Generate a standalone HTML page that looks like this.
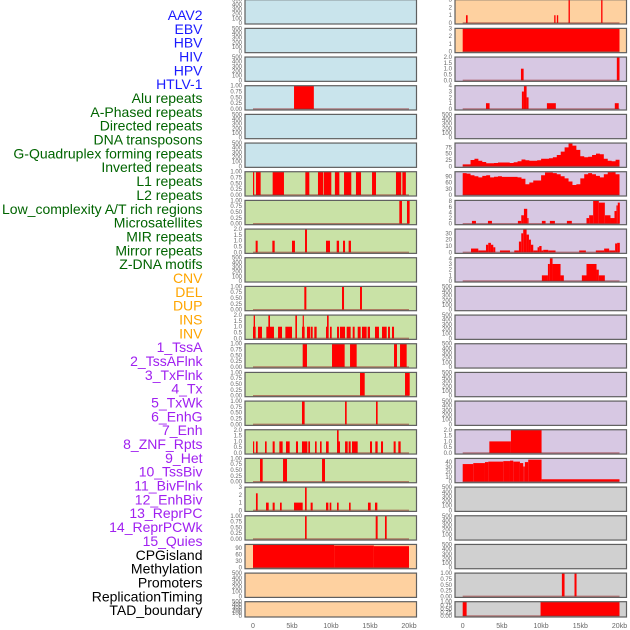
<!DOCTYPE html>
<html><head><meta charset="utf-8">
<style>
html,body{margin:0;padding:0;background:#fff;width:630px;height:630px;overflow:hidden}
svg{display:block;font-family:"Liberation Sans",sans-serif}
</style></head>
<body>
<svg id="chart" width="630" height="630" viewBox="0 0 630 630"></svg>
<script>
// ---------- labels ----------
const trackLabels = ["AAV2","EBV","HBV","HIV","HPV","HTLV-1","Alu repeats","A-Phased repeats","Directed repeats","DNA transposons","G-Quadruplex forming repeats","Inverted repeats","L1 repeats","L2 repeats","Low_complexity A/T rich regions","Microsatellites","MIR repeats","Mirror repeats","Z-DNA motifs","CNV","DEL","DUP","INS","INV","1_TssA","2_TssAFlnk","3_TxFlnk","4_Tx","5_TxWk","6_EnhG","7_Enh","8_ZNF_Rpts","9_Het","10_TssBiv","11_BivFlnk","12_EnhBiv","13_ReprPC","14_ReprPCWk","15_Quies","CPGisland","Methylation","Promoters","ReplicationTiming","TAD_boundary"];
const labelGroups = [6,13,5,15,5];
const groupColors = ["#1a1aff","#006400","#ffa500","#a020f0","#000000"];

// ---------- x axis ----------
const xTickValues = [0,5,10,15,20];
const xTickLabels = ["0","5kb","10kb","15kb","20kb"];

// ---------- tick sets ----------
const ticksEmpty = [0,100,200,300,400,500];
const ticksUnit = [0,0.25,0.5,0.75,1];
const ticksTwo = [0,0.5,1,1.5,2];
const ticksThree = [0,1,2,3];
const ticksFour = [0,1,2,3,4];

// ---------- left column bar data [startKb, endKb, value] ----------
const leftAlu = [[5.26,7.8,1]];
const leftL1 = [[0,0.15,1],[0.38,0.98,1],[2.52,3.97,1],[6.71,7.22,1],[8.33,9.02,1],[9.1,10.04,1],[10.5,11.07,1],[11.67,12.6,1],[13.2,13.85,1],[15.26,15.77,1],[18.33,19.0,1],[19.15,19.6,1]];
const leftLowC = [[18.76,19.1,1],[19.74,20.08,1]];
const leftMIR = [[0.34,0.6,1],[2.48,2.78,1],[5.0,5.38,1],[6.67,6.92,2],[9.36,9.87,1],[10.73,11.03,1],[11.54,11.8,1],[12.26,12.56,1]];
const leftCNV = [[6.58,6.84,1],[11.41,11.67,1],[13.72,13.97,1]];
const leftINS = [[0,0.34,1],[0.085,0.256,2],[0.64,1.15,1],[1.71,2.69,1],[1.97,2.18,2],[3.21,3.72,1],[4.15,5.0,1],[5.43,5.64,2],[6.28,6.62,1],[6.37,6.5,2],[6.92,7.31,1],[7.39,7.65,1],[7.86,8.16,1],[9.36,9.53,1],[9.49,9.7,2],[9.87,10.09,1],[10.77,11.03,1],[11.15,11.8,1],[12.01,12.52,1],[12.78,13.03,1],[13.42,13.8,1],[13.97,14.57,1],[14.7,15.0,1],[15.64,16.15,1],[16.54,17.14,1],[17.31,17.56,1],[17.82,18.08,1]];
const leftTssA = [[6.37,6.92,1],[10.13,11.75,1],[12.44,13.29,1],[18.08,18.46,1],[18.85,19.7,1]];
const leftTssAFlnk = [[13.72,14.32,1],[19.49,20.09,1]];
const leftTxFlnk = [[6.28,6.62,1],[11.8,12.01,1],[15.77,15.98,1]];
const leftZNF = [[0,0.085,1],[0.38,0.6,1],[1.54,1.75,1],[2.52,2.78,1],[3.38,3.8,1],[4.23,4.7,1],[5.51,5.77,1],[6.28,6.97,1],[7.09,7.31,1],[7.95,8.16,1],[8.59,8.8,1],[9.36,9.7,1],[10.77,10.98,2],[10.9,11.15,1],[11.8,12.14,1],[12.26,12.52,1],[12.69,13.42,1],[15.0,15.26,1],[15.68,15.98,1],[16.41,16.67,1],[18.03,18.29,1],[18.63,18.93,1]];
const leftHet = [[0.9,1.24,1],[3.85,4.36,1],[8.85,9.23,1]];
const leftTssBiv = [[0.38,0.6,2.2],[1.67,2.01,1],[2.52,2.78,1],[3.46,3.68,1],[5.26,6.37,1],[6.67,6.88,3],[7.39,7.65,1],[9.36,9.66,1],[9.83,10.04,1],[10.77,10.98,1],[12.31,12.52,1],[14.74,15.09,1],[15.64,15.94,1]];
const leftBivFlnk = [[6.67,6.88,1],[15.73,15.98,1],[16.92,17.14,1]];
const leftCpG = [[0,10.4,105],[10.4,15.5,102],[15.5,20,99]];

// ---------- right column bar data ----------
const rightAAV = [[0.42,0.63,1],[11.67,11.84,1],[12.01,12.18,1],[13.5,13.67,3],[17.66,17.83,3]];
const rightEBV = [[0,20,3]];
const rightHIV = [[7.43,7.77,1],[19.66,20,2]];
const rightHTLV = [[2.97,3.43,1],[7.55,7.81,3],[7.81,8.15,4],[8.15,8.4,2],[10.74,11.88,1],[19.4,19.9,1]];
const rightLowC = [[1.18,1.69,1],[3.22,3.73,1],[7.04,7.47,1],[7.47,7.81,3],[7.81,8.23,5.3],[8.23,8.4,2],[10.1,10.57,1],[11.12,11.76,1],[13.29,13.92,1],[15.79,16.13,2],[16.13,16.64,3],[16.64,17.36,8.3],[17.36,18.13,7.5],[18.13,18.85,3],[18.85,19.36,2],[19.36,19.61,4.5],[19.61,19.78,6.5],[19.78,20.04,7.5]];
const rightMIR = [[1.06,1.99,6],[1.99,2.97,3],[2.97,3.26,12],[3.26,3.6,15],[3.6,3.9,12],[3.9,4.16,8],[4.75,6.03,3],[6.58,7.17,3],[7.17,7.47,17],[7.47,7.72,30],[7.72,8.15,36],[8.15,8.45,28],[8.45,8.7,20],[8.7,9.0,12],[9.0,9.55,3],[9.55,9.76,8],[9.76,10.06,10],[10.06,10.27,3],[10.27,10.91,4],[10.91,11.84,3],[14.86,15.71,3],[16.98,18.04,3],[18.04,18.68,6],[18.68,19.44,3],[19.44,19.7,14],[19.7,20.04,15]];
const rightZDNA = [[10.1,10.87,1],[10.87,11.12,3],[11.12,11.46,4],[11.46,12.48,3],[12.48,12.9,1],[15.2,15.79,1],[15.79,17.07,3],[17.07,17.36,2],[17.36,18.13,1]];
const rightEnh = [[3.4,6.15,1],[6.15,10.06,2]];
const rightZNF = [[0,1.35,36],[1.35,2.84,38],[2.84,3.27,40],[3.27,5.18,41],[5.18,6.03,42],[6.03,6.45,43],[6.45,7.3,41],[7.3,7.72,38],[7.72,7.93,31],[7.93,8.36,40],[8.36,10.06,45],[10.06,20,5]];
const rightProm = [[12.65,12.99,1],[14.26,14.52,1]];
const rightTAD = [[0,0.5,1],[9.93,20,1]];

// ---------- continuous series (0.5kb bins, 0..20kb) ----------
const gquadValues = [8,8,25,30,22,17,12,12,13,15,15,15,13,16,20,27,24,22,22,24,30,30,32,36,45,58,75,90,82,65,40,36,38,45,50,48,30,22,20,26];
const l1Values = [105,103,95,90,85,92,95,85,88,90,87,87,87,87,85,78,52,60,70,70,95,108,108,105,100,90,80,65,48,52,80,100,105,100,92,85,100,110,112,100];
const binWidthKb = 0.5;

// ---------- layout ----------
const BG = {blue:"#c9e4ec",green:"#c9e2a6",orange:"#fed1a0",purple:"#d7c8e3",gray:"#d0d0d0"};
const COLS = [{x0:245,x1:416.5,d0:253,d1:409},{x0:455,x1:626.5,d0:462.7,d1:619.5}];
function rowBox(r){
  if(r===21) return {top:601.7,h:15.3};
  return {top:r*28.67-0.3,h:24.3};
}
// panel specs: [col,row,bg,ymax,ticks,tickDigits,data,kind]
const panels = [
 [0,0,"blue",500,ticksEmpty,0,null,"empty"],
 [0,1,"blue",500,ticksEmpty,0,null,"empty"],
 [0,2,"blue",500,ticksEmpty,0,null,"empty"],
 [0,3,"blue",1,ticksUnit,2,leftAlu,"bars"],
 [0,4,"blue",500,ticksEmpty,0,null,"empty"],
 [0,5,"blue",500,ticksEmpty,0,null,"empty"],
 [0,6,"green",1,ticksUnit,2,leftL1,"bars"],
 [0,7,"green",1,ticksUnit,2,leftLowC,"bars"],
 [0,8,"green",2,ticksTwo,1,leftMIR,"bars"],
 [0,9,"green",500,ticksEmpty,0,null,"empty"],
 [0,10,"green",1,ticksUnit,2,leftCNV,"bars"],
 [0,11,"green",2,ticksTwo,1,leftINS,"bars"],
 [0,12,"green",1,ticksUnit,2,leftTssA,"bars"],
 [0,13,"green",1,ticksUnit,2,leftTssAFlnk,"bars"],
 [0,14,"green",1,ticksUnit,2,leftTxFlnk,"bars"],
 [0,15,"green",2,ticksTwo,1,leftZNF,"bars"],
 [0,16,"green",1,ticksUnit,2,leftHet,"bars"],
 [0,17,"green",3,ticksThree,0,leftTssBiv,"bars"],
 [0,18,"green",1,ticksUnit,2,leftBivFlnk,"bars"],
 [0,19,"orange",107,[0,30,60,90],0,leftCpG,"bars"],
 [0,20,"orange",500,ticksEmpty,0,null,"empty"],
 [0,21,"orange",500,ticksEmpty,0,null,"empty"],
 [1,0,"orange",3,ticksThree,0,rightAAV,"bars"],
 [1,1,"orange",3,ticksThree,0,rightEBV,"bars"],
 [1,2,"purple",2,ticksTwo,1,rightHIV,"bars"],
 [1,3,"purple",4,ticksFour,0,rightHTLV,"bars"],
 [1,4,"purple",500,ticksEmpty,0,null,"empty"],
 [1,5,"purple",92,[0,25,50,75],0,gquadValues,"series"],
 [1,6,"purple",112,[0,30,60,90],0,l1Values,"series"],
 [1,7,"purple",8.3,[0,2,4,6,8],0,rightLowC,"bars"],
 [1,8,"purple",36.7,[0,10,20,30],0,rightMIR,"bars"],
 [1,9,"purple",4.1,ticksFour,0,rightZDNA,"bars"],
 [1,10,"purple",500,ticksEmpty,0,null,"empty"],
 [1,11,"purple",500,ticksEmpty,0,null,"empty"],
 [1,12,"purple",500,ticksEmpty,0,null,"empty"],
 [1,13,"purple",500,ticksEmpty,0,null,"empty"],
 [1,14,"purple",500,ticksEmpty,0,null,"empty"],
 [1,15,"purple",2,ticksTwo,1,rightEnh,"bars"],
 [1,16,"purple",47.5,[0,10,20,30,40],0,rightZNF,"bars"],
 [1,17,"gray",500,ticksEmpty,0,null,"empty"],
 [1,18,"gray",500,ticksEmpty,0,null,"empty"],
 [1,19,"gray",500,ticksEmpty,0,null,"empty"],
 [1,20,"gray",1,ticksUnit,2,rightProm,"bars"],
 [1,21,"gray",1,ticksUnit,2,rightTAD,"bars"]
];

const NS="http://www.w3.org/2000/svg";
const svg=document.getElementById("chart");
function el(tag,attrs,parent){const e=document.createElementNS(NS,tag);for(const k in attrs)e.setAttribute(k,attrs[k]);(parent||svg).appendChild(e);return e;}

// labels
let li=0;
labelGroups.forEach((n,g)=>{
  for(let k=0;k<n;k++){
    const t=el("text",{x:202.5,y:20+li*13.84,"text-anchor":"end","font-size":"14",fill:groupColors[g]});
    
    
    t.textContent=trackLabels[li];li++;
  }
});

panels.forEach((p,idx)=>{
  const [c,r,bg,ymax,ticks,dig,data,kind]=p;
  const col=COLS[c],box=rowBox(r);
  const g=el("g",{});
  
  
  const yBase=box.top+box.h-1;
  const ys=v=>yBase-(v/ymax)*(yBase-box.top);
  const xs=kb=>col.d0+(kb/20)*(col.d1-col.d0);
  const rect=el("rect",{x:col.x0,y:box.top,width:col.x1-col.x0,height:box.h,fill:BG[bg]},g);
  
  
  if(kind==="bars"){
    data.forEach(b=>{
      const x0=xs(b[0]),x1=xs(b[1]);
      const bar=el("rect",{x:x0,y:ys(b[2]),width:Math.max(x1-x0,1.2),height:yBase-ys(b[2]),fill:"#ff0000"},g);
      
      
    });
  } else if(kind==="series"){
    let d="M"+xs(0)+","+yBase;
    data.forEach((v,i)=>{d+=" L"+xs(i*binWidthKb)+","+ys(v)+" L"+xs((i+1)*binWidthKb)+","+ys(v);});
    d+=" L"+xs(data.length*binWidthKb)+","+yBase+" Z";
    const area=el("path",{d:d,fill:"#ff0000"},g);
    
    
  }
  if(kind!=="empty"){
    const bl=el("line",{x1:xs(0),x2:xs(20),y1:yBase,y2:yBase,stroke:"rgba(150,40,40,0.55)","stroke-width":1.5},g);
    
    
  }
  const border=el("rect",{x:col.x0,y:box.top,width:col.x1-col.x0,height:box.h,fill:"none",stroke:"#5f5f5f","stroke-width":1.2},g);
  
  
  ticks.forEach(t=>{
    const tl=el("text",{x:col.x0-3,y:ys(t)+2,"text-anchor":"end","font-size":"6",fill:"#666"},g);
    
    
    tl.textContent=t.toFixed(dig);
  });
});

// x axes
COLS.forEach((col,c)=>{
  xTickValues.forEach((v,i)=>{
    const t=el("text",{x:col.d0+(v/20)*(col.d1-col.d0),y:628,"text-anchor":"middle","font-size":"7",fill:"#666"});
    
    
    t.textContent=xTickLabels[i];
  });
});
</script>
</body></html>
